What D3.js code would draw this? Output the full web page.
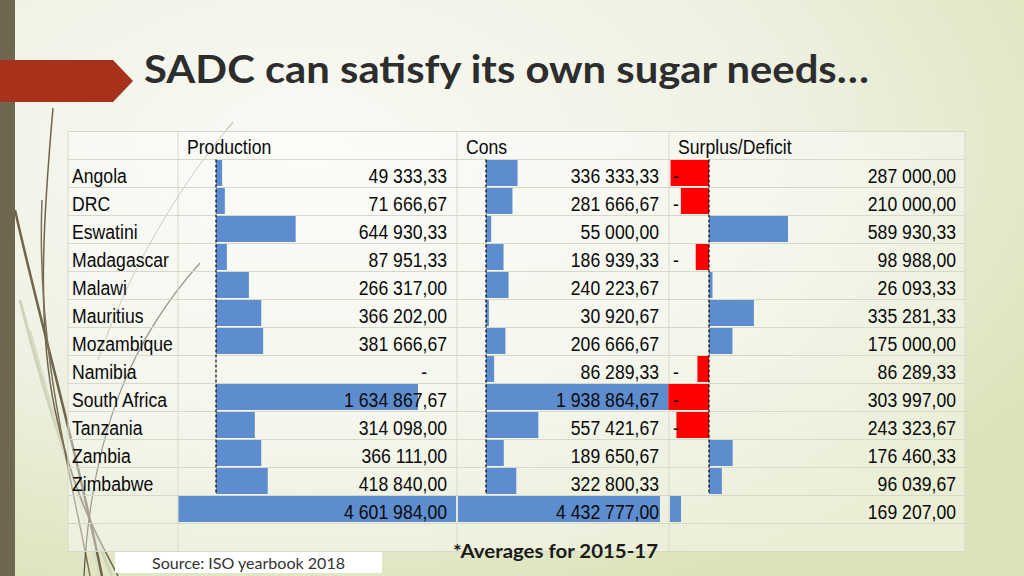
<!DOCTYPE html>
<html>
<head>
<meta charset="utf-8">
<script src="https://d3js.org/d3.v7.min.js"></script>
<style>
  body { margin: 0; overflow: hidden; }
  svg { display: block; }
</style>
</head>
<body>
<svg width="1024" height="576"></svg>
<script>

// data (averages 2015-17, tonnes)
var countries = ["Angola", "DRC", "Eswatini", "Madagascar", "Malawi", "Mauritius",
  "Mozambique", "Namibia", "South Africa", "Tanzania", "Zambia", "Zimbabwe"];
var production = [49333.33, 71666.67, 644930.33, 87951.33, 266317.00, 366202.00,
  381666.67, 0, 1634867.67, 314098.00, 366111.00, 418840.00];
var consumption = [336333.33, 281666.67, 55000.00, 186939.33, 240223.67, 30920.67,
  206666.67, 86289.33, 1938864.67, 557421.67, 189650.67, 322800.33];
var surplus = [-287000.00, -210000.00, 589930.33, -98988.00, 26093.33, 335281.33,
  175000.00, -86289.33, -303997.00, -243323.67, 176460.33, 96039.67];
var totals = [4601984.00, 4432777.00, 169207.00];
var headers = ["Production", "Cons", "Surplus/Deficit"];

var svg = d3.select("svg"),
    width = +svg.attr("width"),
    height = +svg.attr("height");

var locale = d3.formatLocale({decimal: ",", thousands: " ", grouping: [3], currency: ["", ""]});
var fmt = locale.format(",.2f");
function show(v) { return v === 0 ? "-" : fmt(Math.abs(v)); }

// background
var defs = svg.append("defs");
var bg = defs.append("radialGradient").attr("id", "bg")
    .attr("cx", "30%").attr("cy", "25%").attr("r", "85%");
bg.append("stop").attr("offset", "0%").attr("stop-color", "#f9faf5");
bg.append("stop").attr("offset", "55%").attr("stop-color", "#eef1e2");
bg.append("stop").attr("offset", "100%").attr("stop-color", "#dbe3b8");
svg.append("rect").attr("width", width).attr("height", height).attr("fill", "url(#bg)");

// left band + wisps
svg.append("rect").attr("x", 0).attr("y", 0).attr("width", 15).attr("height", height).attr("fill", "#706750");

var wisps = svg.append("g").attr("fill", "none");
wisps.append("path").attr("d", "M20,300 C50,420 80,500 112,576").attr("stroke", "#cfd2b8").attr("stroke-width", 3);
wisps.append("path").attr("d", "M30,330 C60,440 85,520 100,576").attr("stroke", "#d8dbc4").attr("stroke-width", 2);
wisps.append("path").attr("d", "M53,108 C44,210 36,320 55,410 S100,540 118,576").attr("stroke", "#6f654c").attr("stroke-width", 1.5);
wisps.append("path").attr("d", "M15,210 C42,330 72,430 102,576").attr("stroke", "#6f654c").attr("stroke-width", 2.5);
wisps.append("path").attr("d", "M42,200 C36,350 70,470 90,576").attr("stroke", "#7a7058").attr("stroke-width", 1.5);
wisps.append("path").attr("d", "M233,122 C175,190 125,280 98,360").attr("stroke", "#a8a898").attr("stroke-width", 1);
wisps.append("path").attr("d", "M200,263 C140,330 92,420 84,576").attr("stroke", "#5a5040").attr("stroke-width", 1.2);

// title arrow
svg.append("path")
    .attr("d", "M0,60 L113,60 L133,81 L113,102 L0,102 Z")
    .attr("fill", "#a8311b");

svg.append("text")
    .attr("x", 144).attr("y", 83)
    .attr("font-family", "Lato, 'Open Sans', sans-serif")
    .attr("font-weight", "bold")
    .attr("font-size", 39)
    .attr("fill", "#2d2d2d")
    .attr("textLength", 725)
    .attr("lengthAdjust", "spacingAndGlyphs")
    .text("SADC can satisfy its own sugar needs\u2026");

// table layout
var rowTop = 159.5, rowH = 28;
var colX = [68, 178, 457, 669, 965];
var tableBottom = rowTop + rowH * (countries.length + 2);
var rowY = d3.scaleLinear().domain([0, 1]).range([rowTop, rowTop + rowH]);

svg.append("rect")
    .attr("x", colX[0]).attr("y", 131.5)
    .attr("width", colX[4] - colX[0]).attr("height", tableBottom - 131.5)
    .attr("fill", "#ffffff").attr("opacity", 0.4);

var grid = svg.append("g").attr("stroke", "#d5d9c9").attr("stroke-width", 1);
d3.range(-1, countries.length + 3).forEach(function(i) {
  var y = i < 0 ? 131.5 : rowY(i);
  grid.append("line").attr("x1", colX[0]).attr("x2", colX[4]).attr("y1", y).attr("y2", y);
});
colX.forEach(function(x) {
  grid.append("line").attr("x1", x).attr("x2", x).attr("y1", 131.5).attr("y2", tableBottom);
});

// scales: country rows
var xProd = d3.scaleLinear().domain([0, d3.max(production)]).range([216, 418]);
var xCons = d3.scaleLinear().domain([0, d3.max(consumption)]).range([486, 668]);
var xSurp = d3.scaleLinear().domain([0, d3.max(surplus)]).range([709, 788]);
// scales: total row
var xTot = [
  d3.scaleLinear().domain([0, totals[0]]).range([178.5, 456]),
  d3.scaleLinear().domain([0, totals[1]]).range([458, 660]),
  d3.scaleLinear().domain([0, totals[2]]).range([670, 681])
];

var blue = "#5e8dcf", red = "#ff0000";

function bars(vals, x) {
  svg.append("g").selectAll("rect")
    .data(vals)
    .enter().append("rect")
      .attr("x", function(d) { return Math.min(x(0), x(d)); })
      .attr("y", function(d, i) { return rowY(i) + 0.5; })
      .attr("width", function(d) { return Math.abs(x(d) - x(0)); })
      .attr("height", 26)
      .attr("fill", function(d) { return d < 0 ? red : blue; });
}
bars(production, xProd);
bars(consumption, xCons);
bars(surplus, xSurp);

svg.append("g").selectAll("rect")
  .data(totals)
  .enter().append("rect")
    .attr("x", function(d, i) { return xTot[i](0); })
    .attr("y", rowY(countries.length) + 0.5)
    .attr("width", function(d, i) { return xTot[i](d) - xTot[i](0); })
    .attr("height", 26)
    .attr("fill", blue);

// dashed axes
[xProd, xCons, xSurp].forEach(function(x) {
  svg.append("line")
    .attr("x1", x(0)).attr("x2", x(0))
    .attr("y1", rowY(0)).attr("y2", rowY(countries.length) - 1)
    .attr("stroke", "#000").attr("stroke-width", 1.2)
    .attr("stroke-dasharray", "3,2");
});

// cell text: Arial-like, squeezed horizontally like the slide
var cellText = svg.append("g")
    .attr("font-family", "'Liberation Sans', Arial, sans-serif")
    .attr("font-size", 21)
    .attr("fill", "#0a0a0a");

function put(x, y, s, anchor) {
  cellText.append("text")
    .attr("transform", "translate(" + x + "," + y + ") scale(0.84,1)")
    .attr("text-anchor", anchor || "start")
    .text(s);
}

var hx = [187, 466, 678];
headers.forEach(function(h, i) { put(hx[i], 154, h); });

countries.forEach(function(c, i) { put(72, rowY(i) + 23.5, c); });

var valX = [447, 659, 956];
[production, consumption, surplus].forEach(function(vals, c) {
  vals.concat([totals[c]]).forEach(function(v, i) {
    put(v === 0 ? valX[c] - 20 : valX[c], rowY(i) + 23.5, show(v), "end");
    if (v < 0) put(colX[c + 1] + 4, rowY(i) + 23.5, "-");
  });
});

// footer
svg.append("text")
    .attr("x", 453).attr("y", 558)
    .attr("font-family", "Lato, 'Open Sans', sans-serif")
    .attr("font-weight", "bold").attr("font-size", 18)
    .attr("fill", "#1a1a1a")
    .attr("textLength", 205).attr("lengthAdjust", "spacingAndGlyphs")
    .text("*Averages for 2015-17");

svg.append("rect")
    .attr("x", 115).attr("y", 552).attr("width", 267).attr("height", 21)
    .attr("fill", "#ffffff");
svg.append("text")
    .attr("x", 152).attr("y", 569)
    .attr("font-family", "Lato, 'Open Sans', sans-serif")
    .attr("font-size", 15).attr("fill", "#333")
    .attr("textLength", 193).attr("lengthAdjust", "spacingAndGlyphs")
    .text("Source: ISO yearbook 2018");

</script>
</body>
</html>
